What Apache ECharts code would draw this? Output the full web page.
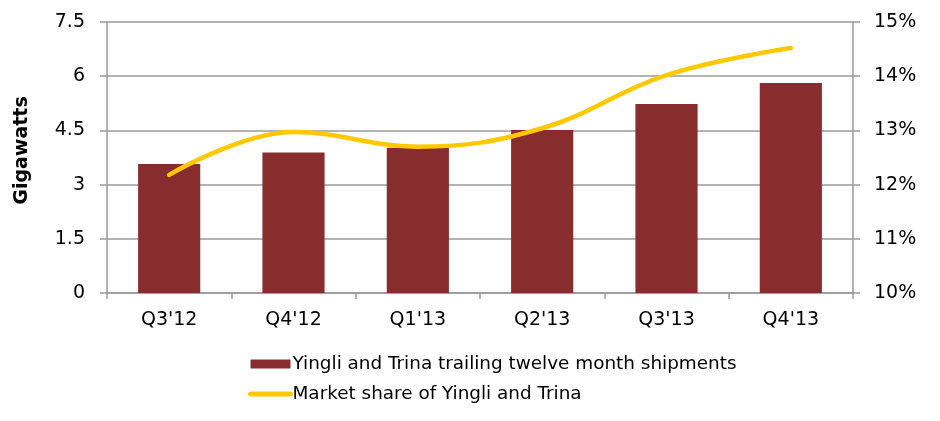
<!DOCTYPE html>
<html><head><meta charset="utf-8">
<script src="https://cdn.jsdelivr.net/npm/echarts@6/dist/echarts.min.js"></script>
<style>html,body{margin:0;padding:0;background:#fff}#c{width:940px;height:421px}</style>
</head><body><div id="c"></div>
<script>
var categories = ["Q3'12","Q4'12","Q1'13","Q2'13","Q3'13","Q4'13"];
var shipments = [3.57, 3.89, 4.02, 4.51, 5.23, 5.81];
var marketShare = [12.18, 12.97, 12.70, 13.04, 14.02, 14.52];
var leftTicks = [0, 1.5, 3, 4.5, 6, 7.5];
var rightTicks = [10, 11, 12, 13, 14, 15];

var font = 'DejaVu Sans';
var gridColor = '#9a9a9a';
var chart = echarts.init(document.getElementById('c'));
chart.setOption({
  animation: false,
  textStyle: {fontFamily: font},
  grid: {left: 107, right: 87, top: 22, bottom: 128, containLabel: false, outerBoundsMode: 'none'},
  legend: {
    orient: 'vertical', left: 243, top: 350,
    itemWidth: 40, itemHeight: 9, itemGap: 12,
    textStyle: {fontFamily: font, fontSize: 18.4, color: '#000', padding: [0,0,0,-3]},
    data: [
      {name: 'Yingli and Trina trailing twelve month shipments', icon: 'rect'},
      {name: 'Market share of Yingli and Trina', itemStyle: {opacity: 0},
       lineStyle: {color: '#FFC800', width: 5, cap: 'round'}}
    ]
  },
  xAxis: {
    type: 'category', data: categories,
    axisLine: {lineStyle: {color: gridColor, width: 1.5}},
    axisTick: {show: true, length: 6, lineStyle: {color: gridColor, width: 1.5}},
    axisLabel: {fontFamily: font, fontSize: 19, color: '#000', margin: 18}
  },
  yAxis: [{
    type: 'value', min: 0, max: 7.5, interval: 1.5,
    name: 'Gigawatts', nameLocation: 'middle', nameGap: 75, nameRotate: 90,
    nameTextStyle: {fontFamily: font, fontSize: 19, fontWeight: 'bold', color: '#000', padding: [0,0,0,14]},
    axisLine: {show: true, lineStyle: {color: gridColor, width: 1.5}},
    axisTick: {show: true, length: 7, lineStyle: {color: gridColor, width: 1.5}},
    axisLabel: {fontFamily: font, fontSize: 19, color: '#000', margin: 22,
      formatter: function(v){ return leftTicks.indexOf(v) >= 0 ? String(v) : ''; }},
    splitLine: {lineStyle: {color: gridColor, width: 1.5}}
  },{
    type: 'value', min: 10, max: 15, interval: 1,
    axisLine: {show: true, lineStyle: {color: gridColor, width: 1.5}},
    axisTick: {show: true, length: 7, lineStyle: {color: gridColor, width: 1.5}},
    axisLabel: {fontFamily: font, fontSize: 19, color: '#000', margin: 21,
      formatter: function(v){ return rightTicks.indexOf(v) >= 0 ? v + '%' : ''; }},
    splitLine: {show: false}
  }],
  series: [{
    name: 'Yingli and Trina trailing twelve month shipments',
    type: 'bar', data: shipments, barWidth: '50%',
    itemStyle: {color: '#882D2E'}
  },{
    name: 'Market share of Yingli and Trina',
    type: 'line', yAxisIndex: 1, data: marketShare, smooth: 0.4,
    symbol: 'none', lineStyle: {color: '#FFC800', width: 4.5, cap: 'round'},
    itemStyle: {color: '#FFC800'}
  }]
});
</script></body></html>
